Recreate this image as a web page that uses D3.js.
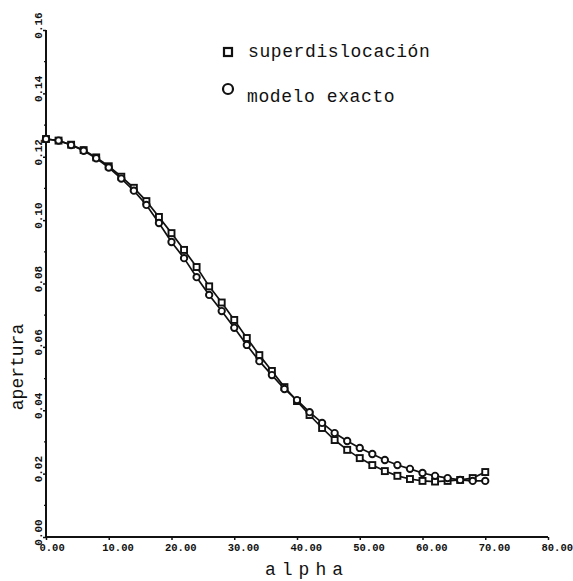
<!DOCTYPE html>
<html>
<head>
<meta charset="utf-8">
<script src="https://cdn.jsdelivr.net/npm/d3@7"></script>
<style>
body { margin: 0; background: #fff; }
text { font-family: "Liberation Mono", "DejaVu Sans Mono", monospace; fill: #111; }
</style>
</head>
<body>
<div id="chart"></div>
<script>
// Data
var alphaValues = [0, 2, 4, 6, 8, 10, 12, 14, 16, 18, 20, 22, 24, 26, 28, 30, 32, 34,
    36, 38, 40, 42, 44, 46, 48, 50, 52, 54, 56, 58, 60, 62, 64, 66, 68, 70];

var superdislocacion = [0.1256, 0.1251, 0.1238, 0.1221, 0.1198, 0.1170, 0.1137, 0.1102,
    0.1060, 0.1010, 0.0959, 0.0906, 0.0852, 0.0791, 0.0740, 0.0685, 0.0628, 0.0574,
    0.0524, 0.0473, 0.0429, 0.0385, 0.0344, 0.0306, 0.0275, 0.0249, 0.0227, 0.0208,
    0.0193, 0.0183, 0.0177, 0.0175, 0.0177, 0.0180, 0.0186, 0.0205];

var modeloExacto = [0.1256, 0.1251, 0.1237, 0.1219, 0.1195, 0.1166, 0.1131, 0.1093,
    0.1048, 0.0991, 0.0931, 0.0880, 0.0820, 0.0764, 0.0713, 0.0660, 0.0606, 0.0555,
    0.0511, 0.0467, 0.0432, 0.0394, 0.0360, 0.0328, 0.0303, 0.0281, 0.0262, 0.0243,
    0.0227, 0.0215, 0.0202, 0.0193, 0.0186, 0.0180, 0.0177, 0.0177];

var xTicks = [0, 10, 20, 30, 40, 50, 60, 70, 80];
var yTicks = [0, 0.02, 0.04, 0.06, 0.08, 0.10, 0.12, 0.14, 0.16];
var yMinorTicks = [0.01, 0.03, 0.05, 0.07, 0.09, 0.11, 0.13, 0.15];

var legendNames = ["superdislocación", "modelo exacto"];

// Setting margins
const margin = { top: 30, right: 25, bottom: 44, left: 46 };
const width = 573 - margin.left - margin.right;
const height = 581 - margin.top - margin.bottom;

var svg = d3.select("#chart")
    .append("svg")
    .attr("width", width + margin.left + margin.right)
    .attr("height", height + margin.top + margin.bottom)
    .append("g")
    .attr("transform", "translate(" + margin.left + "," + margin.top + ")");

var x = d3.scaleLinear().domain([0, 80]).range([0, 502]);
var y = d3.scaleLinear().domain([0, 0.16]).range([height, 0]);

// X axis
var xAxis = svg.append("g")
    .attr("class", "x_axis")
    .attr("transform", "translate(0," + height + ")")
    .call(d3.axisBottom(x).tickValues(xTicks).tickSize(3).tickFormat(d3.format(".2f")));
xAxis.select(".domain").attr("stroke", "#111").attr("stroke-width", 2).attr("d", "M0,0H502");
xAxis.selectAll(".tick line").attr("stroke", "#111").attr("stroke-width", 1.5);
xAxis.selectAll(".tick text")
    .attr("text-anchor", "start")
    .attr("dx", -7)
    .attr("y", 7)
    .attr("dy", "0.71em")
    .style("font-size", "10.5px")
    .style("font-weight", "bold");

// Y axis
var yAxis = svg.append("g")
    .attr("class", "y_axis")
    .call(d3.axisLeft(y).tickValues(yTicks).tickSize(3).tickFormat(d3.format(".2f")));
yAxis.select(".domain").attr("stroke", "#111").attr("stroke-width", 2).attr("d", "M0," + height + "V0");
yAxis.selectAll(".tick line").attr("stroke", "#111").attr("stroke-width", 1.5);
yAxis.selectAll(".tick text")
    .attr("x", null)
    .attr("dy", null)
    .attr("transform", "translate(-4,-5) rotate(-90)")
    .attr("text-anchor", "middle")
    .style("font-size", "11px")
    .style("font-weight", "bold");

svg.append("g")
    .selectAll("line")
    .data(yMinorTicks)
    .enter()
    .append("line")
    .attr("x1", -2)
    .attr("x2", 0)
    .attr("y1", d => y(d))
    .attr("y2", d => y(d))
    .attr("stroke", "#111")
    .attr("stroke-width", 1.2);

// Axis labels
svg.append("text")
    .attr("class", "x_axis_label")
    .attr("x", 219)
    .attr("y", height + 38)
    .style("font-size", "18px")
    .style("letter-spacing", "6px")
    .text("alpha");

svg.append("text")
    .attr("class", "y_axis_label")
    .attr("transform", "rotate(-90)")
    .attr("x", -(367 - margin.top))
    .attr("y", -23)
    .style("text-anchor", "middle")
    .style("font-size", "18px")
    .text("apertura");

// Series
var series = [
    { name: legendNames[0], values: superdislocacion, shape: "square" },
    { name: legendNames[1], values: modeloExacto, shape: "circle" }
];

var line = d3.line()
    .x((d, i) => x(alphaValues[i]))
    .y(d => y(d));

series.forEach(function (s) {
    svg.append("path")
        .datum(s.values)
        .attr("fill", "none")
        .attr("stroke", "#111")
        .attr("stroke-width", 1.7)
        .attr("d", line);
});

series.forEach(function (s) {
    var g = svg.append("g").attr("class", "markers");
    if (s.shape === "square") {
        g.selectAll("rect")
            .data(s.values)
            .enter()
            .append("rect")
            .attr("x", (d, i) => x(alphaValues[i]) - 3)
            .attr("y", d => y(d) - 3)
            .attr("width", 6)
            .attr("height", 6)
            .attr("fill", "#fff")
            .attr("stroke", "#111")
            .attr("stroke-width", 1.9);
    } else {
        g.selectAll("circle")
            .data(s.values)
            .enter()
            .append("circle")
            .attr("cx", (d, i) => x(alphaValues[i]))
            .attr("cy", d => y(d))
            .attr("r", 3.2)
            .attr("fill", "#fff")
            .attr("stroke", "#111")
            .attr("stroke-width", 1.9);
    }
});

// Legend
var legend = svg.append("g")
    .attr("class", "legend")
    .attr("transform", "translate(" + (228 - margin.left) + "," + (52 - margin.top) + ")");

legend.append("rect")
    .attr("x", -4)
    .attr("y", -4)
    .attr("width", 8)
    .attr("height", 8)
    .attr("fill", "#fff")
    .attr("stroke", "#111")
    .attr("stroke-width", 2.2);

legend.append("circle")
    .attr("cx", 0)
    .attr("cy", 37)
    .attr("r", 5)
    .attr("fill", "#fff")
    .attr("stroke", "#111")
    .attr("stroke-width", 2.2);

legend.selectAll("text")
    .data(legendNames)
    .enter()
    .append("text")
    .attr("x", (d, i) => i === 0 ? 20 : 19)
    .attr("y", (d, i) => i === 0 ? 5 : 50)
    .style("font-size", "18px")
    .style("letter-spacing", "0.6px")
    .text(d => d);
</script>
</body>
</html>
